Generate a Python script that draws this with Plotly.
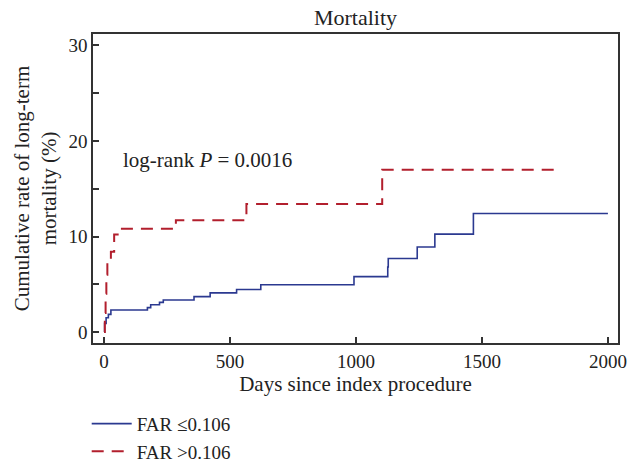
import plotly.graph_objects as go

# Data
blue_days = [0, 2, 8, 17, 27, 172, 185, 220, 235, 357, 421, 526, 622, 992, 1126, 1128, 1243, 1313, 1466, 2000]
blue_rate = [0, 0.9, 1.5, 1.85, 2.3, 2.55, 2.85, 3.1, 3.35, 3.7, 4.1, 4.45, 4.95, 5.8, 6.8, 7.7, 8.9, 10.25, 12.4, 12.4]

red_days = [0, 3, 6, 9, 13, 27, 40, 63, 285, 565, 1104, 1793]
red_rate = [0, 2.0, 4.0, 6.0, 7.5, 8.4, 10.2, 10.8, 11.7, 13.4, 17.0, 17.0]

x_ticks = [0, 500, 1000, 1500, 2000]
y_ticks = [0, 10, 20, 30]

FONT = "Liberation Serif"
BLUE = "#2b3990"
RED = "#b21f2d"
AX = "#333333"
TXT = "#222222"

W, H = 629, 463
fig = go.Figure()
fig.add_trace(go.Scatter(x=blue_days, y=blue_rate, mode="lines", line_shape="hv",
                         line=dict(color=BLUE, width=1.6), name="FAR \u22640.106"))
fig.add_trace(go.Scatter(x=red_days, y=red_rate, mode="lines", line_shape="hv",
                         line=dict(color=RED, width=2, dash="12px,8px"), name="FAR >0.106"))

fig.update_layout(
    width=W, height=H,
    margin=dict(l=93, r=11, t=34, b=120, autoexpand=False),
    paper_bgcolor="white", plot_bgcolor="white",
    font=dict(family=FONT, size=20, color=TXT),
    title=dict(text="Mortality", x=0.5, xref="paper", xanchor="center",
               y=1 - 17 / H, yref="container", yanchor="middle", pad=dict(t=0, b=0),
               font=dict(family=FONT, size=22, color=TXT)),
    showlegend=True,
    legend=dict(x=-0.012, y=-0.20, xanchor="left", yanchor="top", xref="paper", yref="paper",
                bgcolor="rgba(0,0,0,0)", font=dict(family=FONT, size=19, color=TXT),
                tracegroupgap=0, itemwidth=40),
    annotations=[dict(x=68, y=18, xref="x", yref="y", xanchor="left", yanchor="middle",
                      text="log-rank <i>P</i> = 0.0016", showarrow=False,
                      font=dict(family=FONT, size=21, color=TXT))],
)
fig.update_xaxes(range=[-44, 2040], tickvals=x_ticks, ticks="inside", ticklen=6,
                 tickcolor=AX, tickwidth=1.5, showline=True, linecolor=AX, linewidth=1.5,
                 mirror=True, showgrid=False, zeroline=False, automargin=False,
                 tickfont=dict(size=19),
                 title=dict(text="Days since index procedure", standoff=4, font=dict(size=21)))
fig.update_yaxes(range=[-1.15, 31.2], tickvals=y_ticks, ticks="inside", ticklen=6,
                 tickcolor=AX, tickwidth=1.5, showline=True, linecolor=AX, linewidth=1.5,
                 mirror=True, showgrid=False, zeroline=False, automargin=False,
                 tickfont=dict(size=19),
                 minor=dict(tickvals=[5, 15, 25], ticks="inside", ticklen=6, tickcolor=AX, tickwidth=1.5),
                 title=dict(text="Cumulative rate of long-term<br>mortality (%)", standoff=6, font=dict(size=21)))

fig.write_html("out.html", config={"displayModeBar": False},
               post_script="document.body.style.margin='0';document.body.style.overflow='hidden';")
